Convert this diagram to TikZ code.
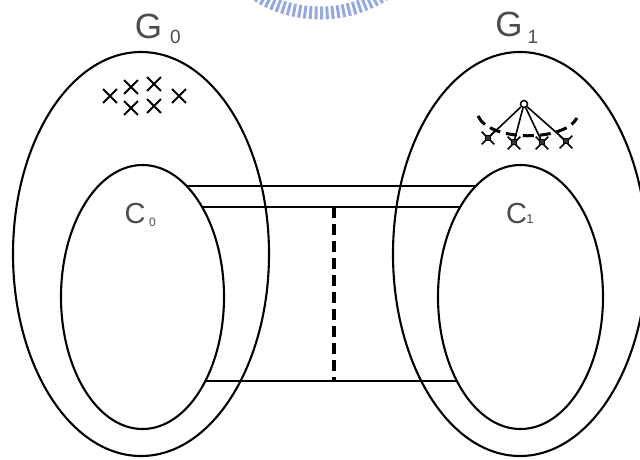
\documentclass[tikz,border=0pt]{standalone}
\usepackage{fontspec}
\setmainfont{Liberation Sans}
\usetikzlibrary{shapes.geometric,shapes.misc}
\definecolor{wmblue}{RGB}{150,168,228}
\begin{document}
\begin{tikzpicture}[x=1pt,y=-1pt,
  lbl/.style={inner sep=0pt,anchor=base,text=black!70},
  oval/.style={draw,ellipse,inner sep=0pt,line width=2.1pt},
  link/.style={line width=1.9pt},
  cut/.style={line width=3.2pt,dash pattern=on 11pt off 6pt},
  xmark/.style={draw,cross out,minimum size=12pt,inner sep=0pt,line width=1.9pt},
  smallx/.style={draw,cross out,minimum size=11pt,inner sep=0pt,line width=1.6pt},
  leafbox/.style={draw,fill=black!80,rectangle,minimum size=5pt,inner sep=0pt,line width=0.8pt},
  rootc/.style={draw,circle,minimum size=7pt,inner sep=0pt,line width=1.5pt},
  tedge/.style={line width=1.6pt},
  tarc/.style={line width=3pt,dash pattern=on 11pt off 6pt}]
\useasboundingbox (0,0) rectangle (640,459);
% faint watermark
\draw[wmblue,line width=13pt,dash pattern=on 3pt off 2.5pt] (320,-108) circle[radius=121];
% ellipses
\node[oval,minimum width=256pt,minimum height=404pt] (G0) at (141,254) {};
\node[oval,minimum width=254pt,minimum height=404pt] (G1) at (520,254) {};
\node[oval,minimum width=163pt,minimum height=264pt] (C0) at (142.5,297) {};
\node[oval,minimum width=165pt,minimum height=264pt] (C1) at (520.5,297) {};
% labels
\node[lbl,font=\fontsize{35}{35}\selectfont] (g0) at (148.5,38) {G};
\node[lbl,font=\fontsize{19}{19}\selectfont] (g0s) at (175.5,43) {0};
\node[lbl,font=\fontsize{35}{35}\selectfont] (g1) at (509,36) {G};
\node[lbl,font=\fontsize{19}{19}\selectfont] (g1s) at (533,43) {1};
\node[lbl,font=\fontsize{29}{29}\selectfont] (c0) at (135,223) {C};
\node[lbl,font=\fontsize{12}{12}\selectfont] (c0s) at (152.5,226) {0};
\node[lbl,font=\fontsize{29}{29}\selectfont] (c1) at (516.5,223) {C};
\node[lbl,font=\fontsize{13}{13}\selectfont] (c1s) at (530,223) {1};
% connectors between C0 and C1
\coordinate (a0) at (186.6,186);
\coordinate (a1) at (475.9,186);
\coordinate (b0) at (202.1,207);
\coordinate (b1) at (460.2,207);
\coordinate (e0) at (205.3,381);
\coordinate (e1) at (456.9,381);
\coordinate (d0) at (334,207);
\coordinate (d1) at (334,381);
\draw[link] (a0) -- (a1);
\draw[link] (b0) -- (b1);
\draw[link] (e0) -- (e1);
\draw[cut] (d0) -- (d1);
% crosses in G0
\node[xmark] (x1) at (110,96) {};
\node[xmark] (x2) at (131,87) {};
\node[xmark] (x3) at (154,84) {};
\node[xmark] (x4) at (179,96) {};
\node[xmark] (x5) at (131,108) {};
\node[xmark] (x6) at (154,106) {};
% tree in G1
\node[rootc] (r) at (524,104) {};
\node[smallx] (l1x) at (488,138) {};
\node[smallx] (l2x) at (514,143) {};
\node[smallx] (l3x) at (542,143) {};
\node[smallx] (l4x) at (566,142) {};
\node[leafbox] (l1) at (488,138) {};
\node[leafbox] (l2) at (514,142) {};
\node[leafbox] (l3) at (542,142) {};
\node[leafbox] (l4) at (566,141) {};
\draw[tedge] (r) -- (l1);
\draw[tedge] (r) -- (l2);
\draw[tedge] (r) -- (l3);
\draw[tedge] (r) -- (l4);
\coordinate (arcL) at (478,116);
\coordinate (arcR) at (577,118);
\draw[tarc] (arcL) .. controls (490,142) and (564,142) .. (arcR);
\end{tikzpicture}
\end{document}
